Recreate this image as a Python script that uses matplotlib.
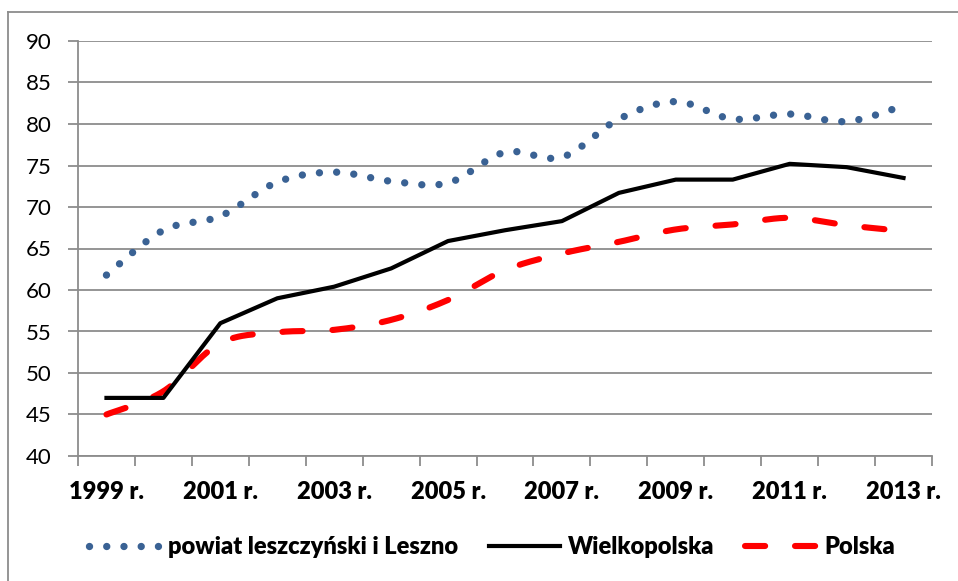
import numpy as np
import matplotlib
matplotlib.use("Agg")
import matplotlib.pyplot as plt
from matplotlib.lines import Line2D

years = ["1999 r.", "2000 r.", "2001 r.", "2002 r.", "2003 r.", "2004 r.", "2005 r.",
         "2006 r.", "2007 r.", "2008 r.", "2009 r.", "2010 r.", "2011 r.", "2012 r.", "2013 r."]
powiat = [61.8, 67.2, 68.9, 73.0, 74.2, 73.1, 72.9, 76.6, 76.0, 80.6, 82.7, 80.6, 81.2, 80.3, 82.2]
wielkopolska = [47.0, 47.0, 56.0, 59.0, 60.4, 62.6, 65.9, 67.2, 68.3, 71.7, 73.3, 73.3, 75.2, 74.8, 73.5]
polska = [45.0, 47.8, 53.6, 54.9, 55.2, 56.4, 58.8, 62.4, 64.4, 65.8, 67.3, 67.9, 68.7, 67.8, 67.1]
series_names = ["powiat leszczyński i Leszno", "Wielkopolska", "Polska"]
yticks = [40, 45, 50, 55, 60, 65, 70, 75, 80, 85, 90]

plt.rcParams['lines.scale_dashes'] = False
FONT = ['Lato', 'DejaVu Sans']


def smooth(xs, ys, n=30):
    """Excel-like smoothed line (cubic Bezier with Catmull-Rom control points)."""
    xs = np.asarray(xs, float)
    ys = np.asarray(ys, float)
    P = np.column_stack([xs, ys])
    Pext = np.vstack([P[0], P, P[-1]])
    out = []
    t = np.linspace(0, 1, n)[:, None]
    for i in range(len(P) - 1):
        p0, p3 = P[i], P[i + 1]
        p1 = p0 + (Pext[i + 2] - Pext[i]) / 6.0
        p2 = p3 - (Pext[i + 3] - Pext[i + 1]) / 6.0
        seg = ((1 - t) ** 3) * p0 + 3 * ((1 - t) ** 2) * t * p1 + 3 * (1 - t) * t ** 2 * p2 + t ** 3 * p3
        out.append(seg if i == 0 else seg[1:])
    seg = np.vstack(out)
    return seg[:, 0], seg[:, 1]


fig = plt.figure(figsize=(9.58, 5.81), dpi=100)
ax = fig.add_axes([78 / 958, 1 - 456 / 581, (932 - 78) / 958, (456 - 41) / 581])

x = np.arange(len(years))
blue = '#3A6294'
grid_c = '#8C8C8C'

sx, sy = smooth(x, powiat)
ax.plot(sx, sy, color=blue, lw=5.3, linestyle=(0, (0.01, 12.4)), dash_capstyle='round',
        solid_capstyle='round', zorder=3)
ax.plot(x, wielkopolska, color='black', lw=3.0, solid_joinstyle='round', zorder=4)
sx2, sy2 = smooth(x, polska)
ax.plot(sx2, sy2, color='#FF0000', lw=4.4, linestyle=(0, (14.5, 21.5)), dash_capstyle='round', zorder=3)

ax.set_xlim(-0.5, len(years) - 0.5)
ax.set_ylim(40, 90)
ax.set_yticks(yticks)
ax.set_yticklabels([str(v) for v in yticks], fontsize=16, family=FONT)
ax.yaxis.grid(True, color=grid_c, lw=1.3)
ax.set_axisbelow(True)

ax.set_xticks(np.arange(-0.5, len(years), 1.0))
ax.set_xticklabels([])
ax.set_xticks(x[::2], minor=True)
ax.set_xticklabels(years[::2], minor=True, fontsize=17, fontweight='heavy', family=FONT)
ax.tick_params(axis='x', which='major', length=7, width=1.3, color=grid_c, direction='out')
ax.tick_params(axis='x', which='minor', length=0, pad=18)
ax.tick_params(axis='y', length=7, width=1.3, color=grid_c, pad=12)

for s in ['top', 'right']:
    ax.spines[s].set_visible(False)
for s in ['left', 'bottom']:
    ax.spines[s].set_color(grid_c)
    ax.spines[s].set_linewidth(1.3)

# outer chart border
fig.add_artist(Line2D([8 / 958, 8 / 958], [0, 1 - 12 / 581], transform=fig.transFigure,
                      color='#8C8C8C', lw=1.3))
fig.add_artist(Line2D([8 / 958, 1], [1 - 12 / 581, 1 - 12 / 581], transform=fig.transFigure,
                      color='#8C8C8C', lw=1.3))

handles = [
    Line2D([], [], color=blue, lw=5.3, linestyle=(0, (0.01, 12.4)), dash_capstyle='round'),
    Line2D([], [], color='black', lw=3.0),
    Line2D([], [], color='#FF0000', lw=4.4, linestyle=(0, (14.5, 21.5)), dash_capstyle='round'),
]
fig.legend(handles, series_names, loc='center', bbox_to_anchor=(492 / 958, 1 - 547 / 581),
           ncol=3, frameon=False, handlelength=3.0, handletextpad=0.35, columnspacing=1.3,
           prop={'family': FONT, 'weight': 'heavy', 'size': 17})

fig.savefig('out.png', dpi=100)
